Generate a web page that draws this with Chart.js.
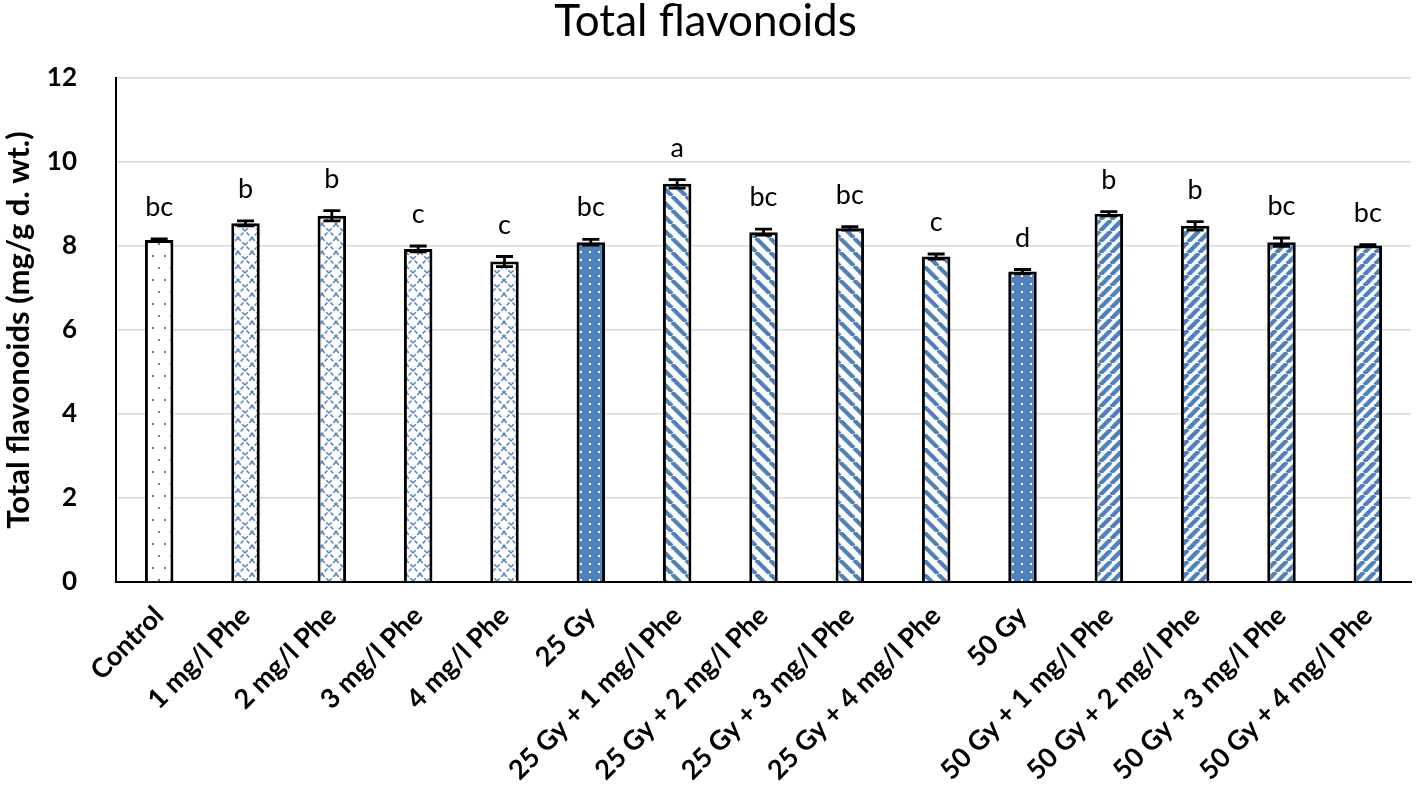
<!DOCTYPE html>
<html>
<head>
<meta charset="utf-8">
<script src="https://cdn.jsdelivr.net/npm/chart.js@4.4.1/dist/chart.umd.min.js"></script>
<style>
  html, body { margin: 0; padding: 0; background: #fff; }
  #wrap { width: 1418px; height: 793px; }
</style>
</head>
<body>
<div id="wrap"><canvas id="chart" width="1418" height="793"></canvas></div>
<script>
// データ
const categories = [
  'Control', '1 mg/l Phe', '2 mg/l Phe', '3 mg/l Phe', '4 mg/l Phe',
  '25 Gy', '25 Gy + 1 mg/l Phe', '25 Gy + 2 mg/l Phe', '25 Gy + 3 mg/l Phe', '25 Gy + 4 mg/l Phe',
  '50 Gy', '50 Gy + 1 mg/l Phe', '50 Gy + 2 mg/l Phe', '50 Gy + 3 mg/l Phe', '50 Gy + 4 mg/l Phe'
];
const means = [8.14, 8.54, 8.72, 7.93, 7.63, 8.09, 9.48, 8.33, 8.42, 7.75, 7.39, 8.77, 8.48, 8.09, 8.01];
const errors = [0.03, 0.06, 0.12, 0.07, 0.12, 0.07, 0.10, 0.07, 0.04, 0.06, 0.05, 0.05, 0.10, 0.10, 0.02];
const letters = ['bc', 'b', 'b', 'c', 'c', 'bc', 'a', 'bc', 'bc', 'c', 'd', 'b', 'b', 'bc', 'bc'];
const fills = ['dots', 'lattice', 'lattice', 'lattice', 'lattice', 'solid', 'back', 'back', 'back', 'back', 'solid', 'fwd', 'fwd', 'fwd', 'fwd'];
const yTicks = [0, 2, 4, 6, 8, 10, 12];

const BLUE = '#4f81bd';
const FONT = 'Lato, "Liberation Sans", sans-serif';

// 塗りパターン作成
function makePattern(kind) {
  const c = document.createElement('canvas');
  let ctx;
  if (kind === 'dots') {
    c.width = 12; c.height = 24;
    ctx = c.getContext('2d');
    ctx.fillStyle = '#fff'; ctx.fillRect(0, 0, 12, 24);
    ctx.fillStyle = BLUE;
    ctx.fillRect(2, 3, 2, 2);
    ctx.fillRect(8, 15, 2, 2);
  } else if (kind === 'lattice') {
    c.width = 14; c.height = 14;
    ctx = c.getContext('2d');
    ctx.fillStyle = '#fff'; ctx.fillRect(0, 0, 14, 14);
    ctx.strokeStyle = '#5f8ac6';
    ctx.lineWidth = 1.6;
    ctx.setLineDash([4, 2]);
    ctx.beginPath();
    ctx.moveTo(0, 0); ctx.lineTo(14, 14);
    ctx.moveTo(14, 0); ctx.lineTo(0, 14);
    ctx.stroke();
  } else if (kind === 'solid') {
    c.width = 9; c.height = 8;
    ctx = c.getContext('2d');
    ctx.fillStyle = BLUE; ctx.fillRect(0, 0, 9, 8);
    ctx.fillStyle = '#fff';
    ctx.fillRect(4, 3, 2, 2);
  } else {
    const p = kind === 'back' ? 14 : 11;
    c.width = p; c.height = p;
    ctx = c.getContext('2d');
    ctx.fillStyle = '#fff'; ctx.fillRect(0, 0, p, p);
    ctx.strokeStyle = BLUE;
    ctx.lineWidth = kind === 'back' ? 4.2 : 4.4;
    ctx.beginPath();
    for (let o = -p; o <= p; o += p) {
      if (kind === 'back') {
        ctx.moveTo(o, 0); ctx.lineTo(o + p, p);
      } else {
        ctx.moveTo(o, p); ctx.lineTo(o + p, 0);
      }
    }
    ctx.stroke();
  }
  return document.createElement('canvas').getContext('2d').createPattern(c, 'repeat');
}

// エラーバーと有意差の文字
const errorBarPlugin = {
  id: 'errorBars',
  afterDatasetsDraw(chart) {
    const ctx = chart.ctx;
    const y = chart.scales.y;
    const meta = chart.getDatasetMeta(0);
    ctx.save();
    ctx.strokeStyle = '#000';
    ctx.lineWidth = 2.8;
    meta.data.forEach((bar, i) => {
      const top = y.getPixelForValue(means[i] + errors[i]);
      const bot = y.getPixelForValue(means[i] - errors[i]);
      const half = 8.5;
      ctx.beginPath();
      ctx.moveTo(bar.x, top); ctx.lineTo(bar.x, bot);
      ctx.moveTo(bar.x - half, top); ctx.lineTo(bar.x + half, top);
      ctx.moveTo(bar.x - half, bot); ctx.lineTo(bar.x + half, bot);
      ctx.stroke();

      ctx.fillStyle = '#000';
      ctx.font = '27px ' + FONT;
      ctx.textAlign = 'center';
      ctx.textBaseline = 'alphabetic';
      ctx.fillText(letters[i], bar.x, top - 23);
    });
    ctx.restore();
  }
};

const ctx = document.getElementById('chart').getContext('2d');
new Chart(ctx, {
  type: 'bar',
  data: {
    labels: categories,
    datasets: [{
      data: means,
      backgroundColor: fills.map(makePattern),
      borderColor: '#000',
      borderWidth: 3,
      categoryPercentage: 1,
      barPercentage: 0.33
    }]
  },
  options: {
    responsive: false,
    animation: false,
    devicePixelRatio: 1,
    layout: { padding: { left: 0, right: 7, top: 0, bottom: 0 } },
    plugins: {
      legend: { display: false },
      tooltip: { enabled: false },
      title: {
        display: true,
        text: 'Total flavonoids',
        color: '#000',
        font: { family: FONT, size: 44, weight: 'normal', lineHeight: 1.0 },
        padding: { top: 0, bottom: 34 }
      }
    },
    scales: {
      y: {
        min: 0,
        max: 12,
        afterFit(scale) { scale.width = 116; },
        afterBuildTicks(scale) { scale.ticks = yTicks.map(v => ({ value: v })); },
        grid: { color: '#d9d9d9', lineWidth: 1.5, drawTicks: false },
        border: { display: true, color: '#000', width: 2 },
        ticks: {
          color: '#000',
          padding: 39,
          font: { family: FONT, size: 26, weight: 'bold' }
        },
        title: {
          display: true,
          text: 'Total flavonoids (mg/g d. wt.)',
          color: '#000',
          padding: { top: 3, bottom: 0 },
          font: { family: FONT, size: 31, weight: 'bold', lineHeight: 1.0 }
        }
      },
      x: {
        afterFit(scale) { scale.height = 211; },
        grid: { display: false, drawTicks: false },
        border: { display: true, color: '#000', width: 2 },
        ticks: {
          color: '#000',
          padding: 18,
          minRotation: 45,
          maxRotation: 45,
          autoSkip: false,
          font: { family: FONT, size: 27, weight: 'bold' }
        }
      }
    }
  },
  plugins: [errorBarPlugin]
});
</script>
</body>
</html>
